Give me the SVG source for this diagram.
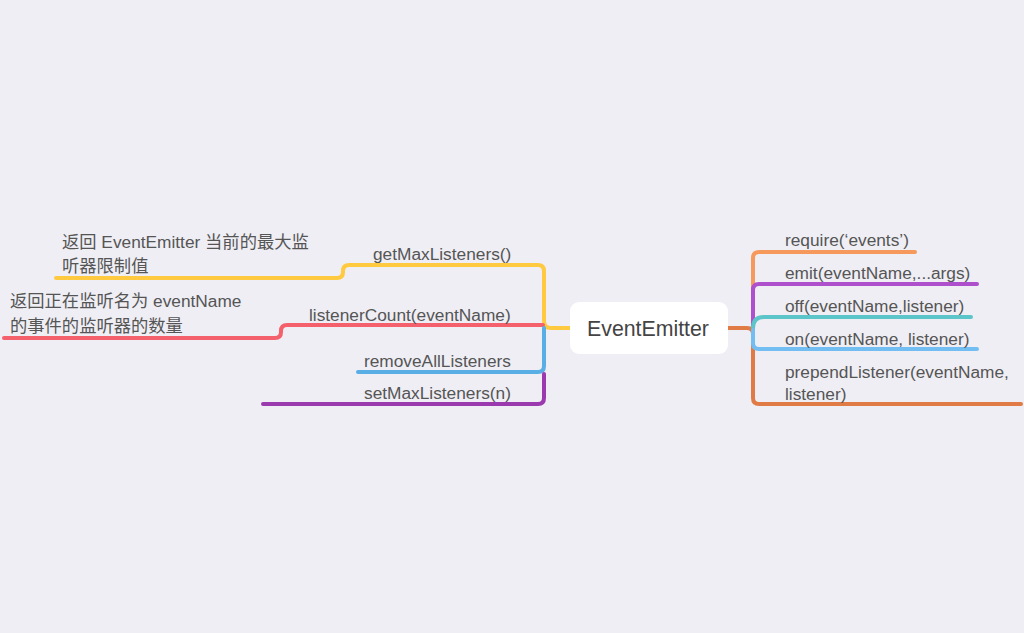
<svg xmlns="http://www.w3.org/2000/svg" width="1024" height="633" viewBox="0 0 1024 633">
<style>
.t{font-family:"Liberation Sans","Noto Sans CJK SC",sans-serif;font-size:17.3px;fill:#555555}
.c{font-family:"Liberation Sans","Noto Sans CJK SC",sans-serif;font-size:21.3px;fill:#444444}
.l{fill:none;stroke-width:4;stroke-linecap:round;stroke-linejoin:round}
</style>
<rect width="1024" height="633" fill="#EFEEF4"/>
<g id="connectors">
<path class="l" stroke="#FFC940" d="M570,328 H551 Q544,328 544,321 V271 Q544,265 538,265 H349 Q343,265 343,271 V272 Q343,278 337,278 H56"/>
<path class="l" stroke="#F4606C" d="M543,325 H287 Q281,325 281,331 V332 Q281,338 275,338 H4"/>
<path class="l" stroke="#5AAEE6" d="M544,328 V366 Q544,372 538,372 H358"/>
<path class="l" stroke="#9A3AAE" d="M544,374 V398 Q544,404 538,404 H263"/>
<path class="l" stroke="#E07B45" d="M728,328 H747 Q753,328 753,334 V398 Q753,404 759,404 H1021"/>
<path class="l" stroke="#F59A5C" d="M753,330 V258 Q753,252 759,252 H915"/>
<path class="l" stroke="#AE4FCB" d="M753,328 V290 Q753,284 759,284 H977"/>
<path class="l" stroke="#5CC5C9" d="M753,328 Q753,317 764,317 H971"/>
<path class="l" stroke="#72BEF2" d="M753,330 V343 Q753,349 759,349 H977"/>
</g>
<g id="center">
<rect x="570" y="302" width="158" height="52" rx="9" fill="#FFFFFF"/>
<text class="c" x="648" y="336" text-anchor="middle">EventEmitter</text>
</g>
<g id="getMax"><text class="t" x="373" y="260">getMaxListeners()</text></g>
<g id="getMaxNote"><text class="t" x="62" y="248">返回 EventEmitter 当前的最大监</text><text class="t" x="62" y="272">听器限制值</text></g>
<g id="listenerCount"><text class="t" x="309" y="321">listenerCount(eventName)</text></g>
<g id="listenerCountNote"><text class="t" x="10" y="307">返回正在监听名为 eventName</text><text class="t" x="10" y="332">的事件的监听器的数量</text></g>
<g id="removeAll"><text class="t" x="364" y="367">removeAllListeners</text></g>
<g id="setMax"><text class="t" x="364" y="399">setMaxListeners(n)</text></g>
<g id="require"><text class="t" x="785" y="246">require(‘events’)</text></g>
<g id="emit"><text class="t" x="785" y="279">emit(eventName,...args)</text></g>
<g id="off"><text class="t" x="785" y="312">off(eventName,listener)</text></g>
<g id="on"><text class="t" x="785" y="345">on(eventName, listener)</text></g>
<g id="prepend"><text class="t" x="785" y="378">prependListener(eventName,</text><text class="t" x="785" y="400">listener)</text></g>
</svg>
